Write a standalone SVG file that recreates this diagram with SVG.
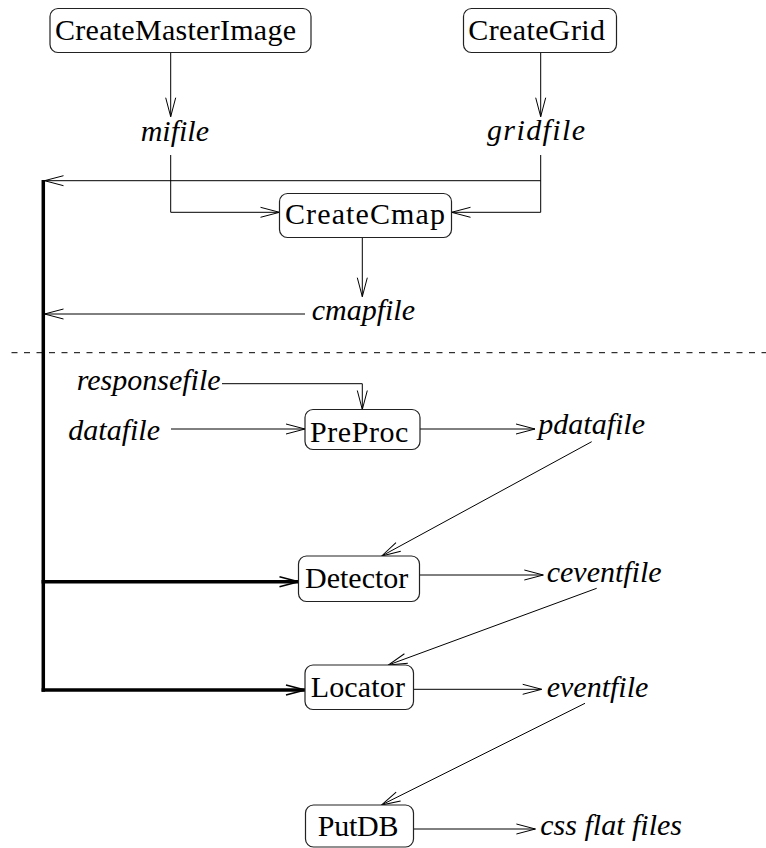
<svg xmlns="http://www.w3.org/2000/svg" width="766" height="848" viewBox="0 0 766 848">
  <defs>
    <marker id="arr" markerUnits="userSpaceOnUse" orient="auto" overflow="visible" markerWidth="1" markerHeight="1" refX="0" refY="0">
      <path d="M-19,-5 L0,0 L-19,5" fill="none" stroke="#000" stroke-width="1"/>
    </marker>
    <marker id="arrT" markerUnits="userSpaceOnUse" orient="auto" overflow="visible" markerWidth="1" markerHeight="1" refX="0" refY="0">
      <path d="M-19,-5 L0,0 L-19,5" fill="none" stroke="#000" stroke-width="1.6"/>
    </marker>
  </defs>

  <!-- separator between setup stage and processing stage -->
  <line x1="11.5" y1="352.7" x2="766" y2="352.7" stroke="#000" stroke-width="1" stroke-dasharray="6 6.5"/>

  <g id="connectors">
    <g fill="none" stroke="#000" stroke-width="1" marker-end="url(#arr)">
      <line x1="170.7" y1="52.7" x2="170.7" y2="116.7"/>
      <line x1="540.7" y1="52.7" x2="540.7" y2="116.7"/>
      <polyline points="170.7,155 170.7,212.3 279.5,212.3"/>
      <polyline points="540.7,155 540.7,212.3 451.5,212.3"/>
      <line x1="540.7" y1="180.7" x2="44.5" y2="180.7"/>
      <line x1="362.3" y1="237.5" x2="362.3" y2="296.7"/>
      <line x1="305" y1="314" x2="44.5" y2="314"/>
      <polyline points="222,383.7 362.3,383.7 362.3,409.5"/>
      <line x1="171" y1="429" x2="305" y2="429"/>
      <line x1="420" y1="429" x2="535" y2="429"/>
      <line x1="591.7" y1="441.7" x2="381.7" y2="556"/>
      <line x1="419.5" y1="575" x2="543.3" y2="575"/>
      <line x1="596.7" y1="588.3" x2="388.3" y2="665"/>
      <line x1="413.5" y1="689.3" x2="541.7" y2="689.3"/>
      <line x1="585" y1="703.3" x2="381.4" y2="805"/>
      <line x1="413.5" y1="829" x2="535.4" y2="829"/>
    </g>
    <!-- common map/grid supply line -->
    <line x1="43.3" y1="180" x2="43.3" y2="691.7" fill="none" stroke="#000" stroke-width="3.5"/>
    <g fill="none" stroke="#000" stroke-width="3.5" marker-end="url(#arrT)">
      <line x1="41.6" y1="581.7" x2="298.5" y2="581.7"/>
      <line x1="41.6" y1="690" x2="305" y2="690"/>
    </g>
  </g>

  <!-- process boxes -->
  <g fill="#fff" stroke="#222" stroke-width="1.2">
    <rect id="CreateMasterImage-box" x="50" y="8.5" width="261" height="44" rx="8"/>
    <rect id="CreateGrid-box" x="463.5" y="8.5" width="153" height="44" rx="8"/>
    <rect id="CreateCmap-box" x="279.5" y="193.5" width="172" height="44" rx="8"/>
    <rect id="PreProc-box" x="305" y="409.5" width="115" height="40" rx="8"/>
    <rect id="Detector-box" x="298.5" y="556" width="121" height="45.5" rx="8"/>
    <rect id="Locator-box" x="305" y="665" width="108.5" height="44.5" rx="8"/>
    <rect id="PutDB-box" x="305.5" y="805" width="108" height="42" rx="8"/>
  </g>
  <g font-size="30" fill="#000">
    <g id="CreateMasterImage"><text x="55" y="40" font-family="Times New Roman" textLength="241">CreateMasterImage</text></g>
    <g id="CreateGrid"><text x="468.3" y="40" font-family="Times New Roman" textLength="136.7">CreateGrid</text></g>
    <g id="CreateCmap"><text x="285" y="224" font-family="Times New Roman" textLength="160">CreateCmap</text></g>
    <g id="PreProc"><text x="310" y="441.7" font-family="Times New Roman" textLength="98.3">PreProc</text></g>
    <g id="Detector"><text x="305" y="588.3" font-family="Times New Roman" textLength="103.3">Detector</text></g>
    <g id="Locator"><text x="310.7" y="696.7" font-family="Times New Roman" textLength="94.3">Locator</text></g>
    <g id="PutDB"><text x="317.8" y="836" font-family="Times New Roman" textLength="80.7">PutDB</text></g>
  </g>

  <!-- data files -->
  <g font-size="30" fill="#000">
    <g id="mifile"><text x="140.7" y="141" font-family="Times New Roman" font-style="italic">mifile</text></g>
    <g id="gridfile"><text x="487" y="140" font-family="Times New Roman" font-style="italic" textLength="98">gridfile</text></g>
    <g id="cmapfile"><text x="311.7" y="320" font-family="Times New Roman" font-style="italic">cmapfile</text></g>
    <g id="responsefile"><text x="76.7" y="390" font-family="Times New Roman" font-style="italic">responsefile</text></g>
    <g id="datafile"><text x="68.3" y="440" font-family="Times New Roman" font-style="italic">datafile</text></g>
    <g id="pdatafile"><text x="538.3" y="434" font-family="Times New Roman" font-style="italic">pdatafile</text></g>
    <g id="ceventfile"><text x="546.7" y="581.7" font-family="Times New Roman" font-style="italic">ceventfile</text></g>
    <g id="eventfile"><text x="546.7" y="696.7" font-family="Times New Roman" font-style="italic">eventfile</text></g>
    <g id="css-flat-files"><text x="540.3" y="835" font-family="Times New Roman" font-style="italic">css flat files</text></g>
  </g>
</svg>
